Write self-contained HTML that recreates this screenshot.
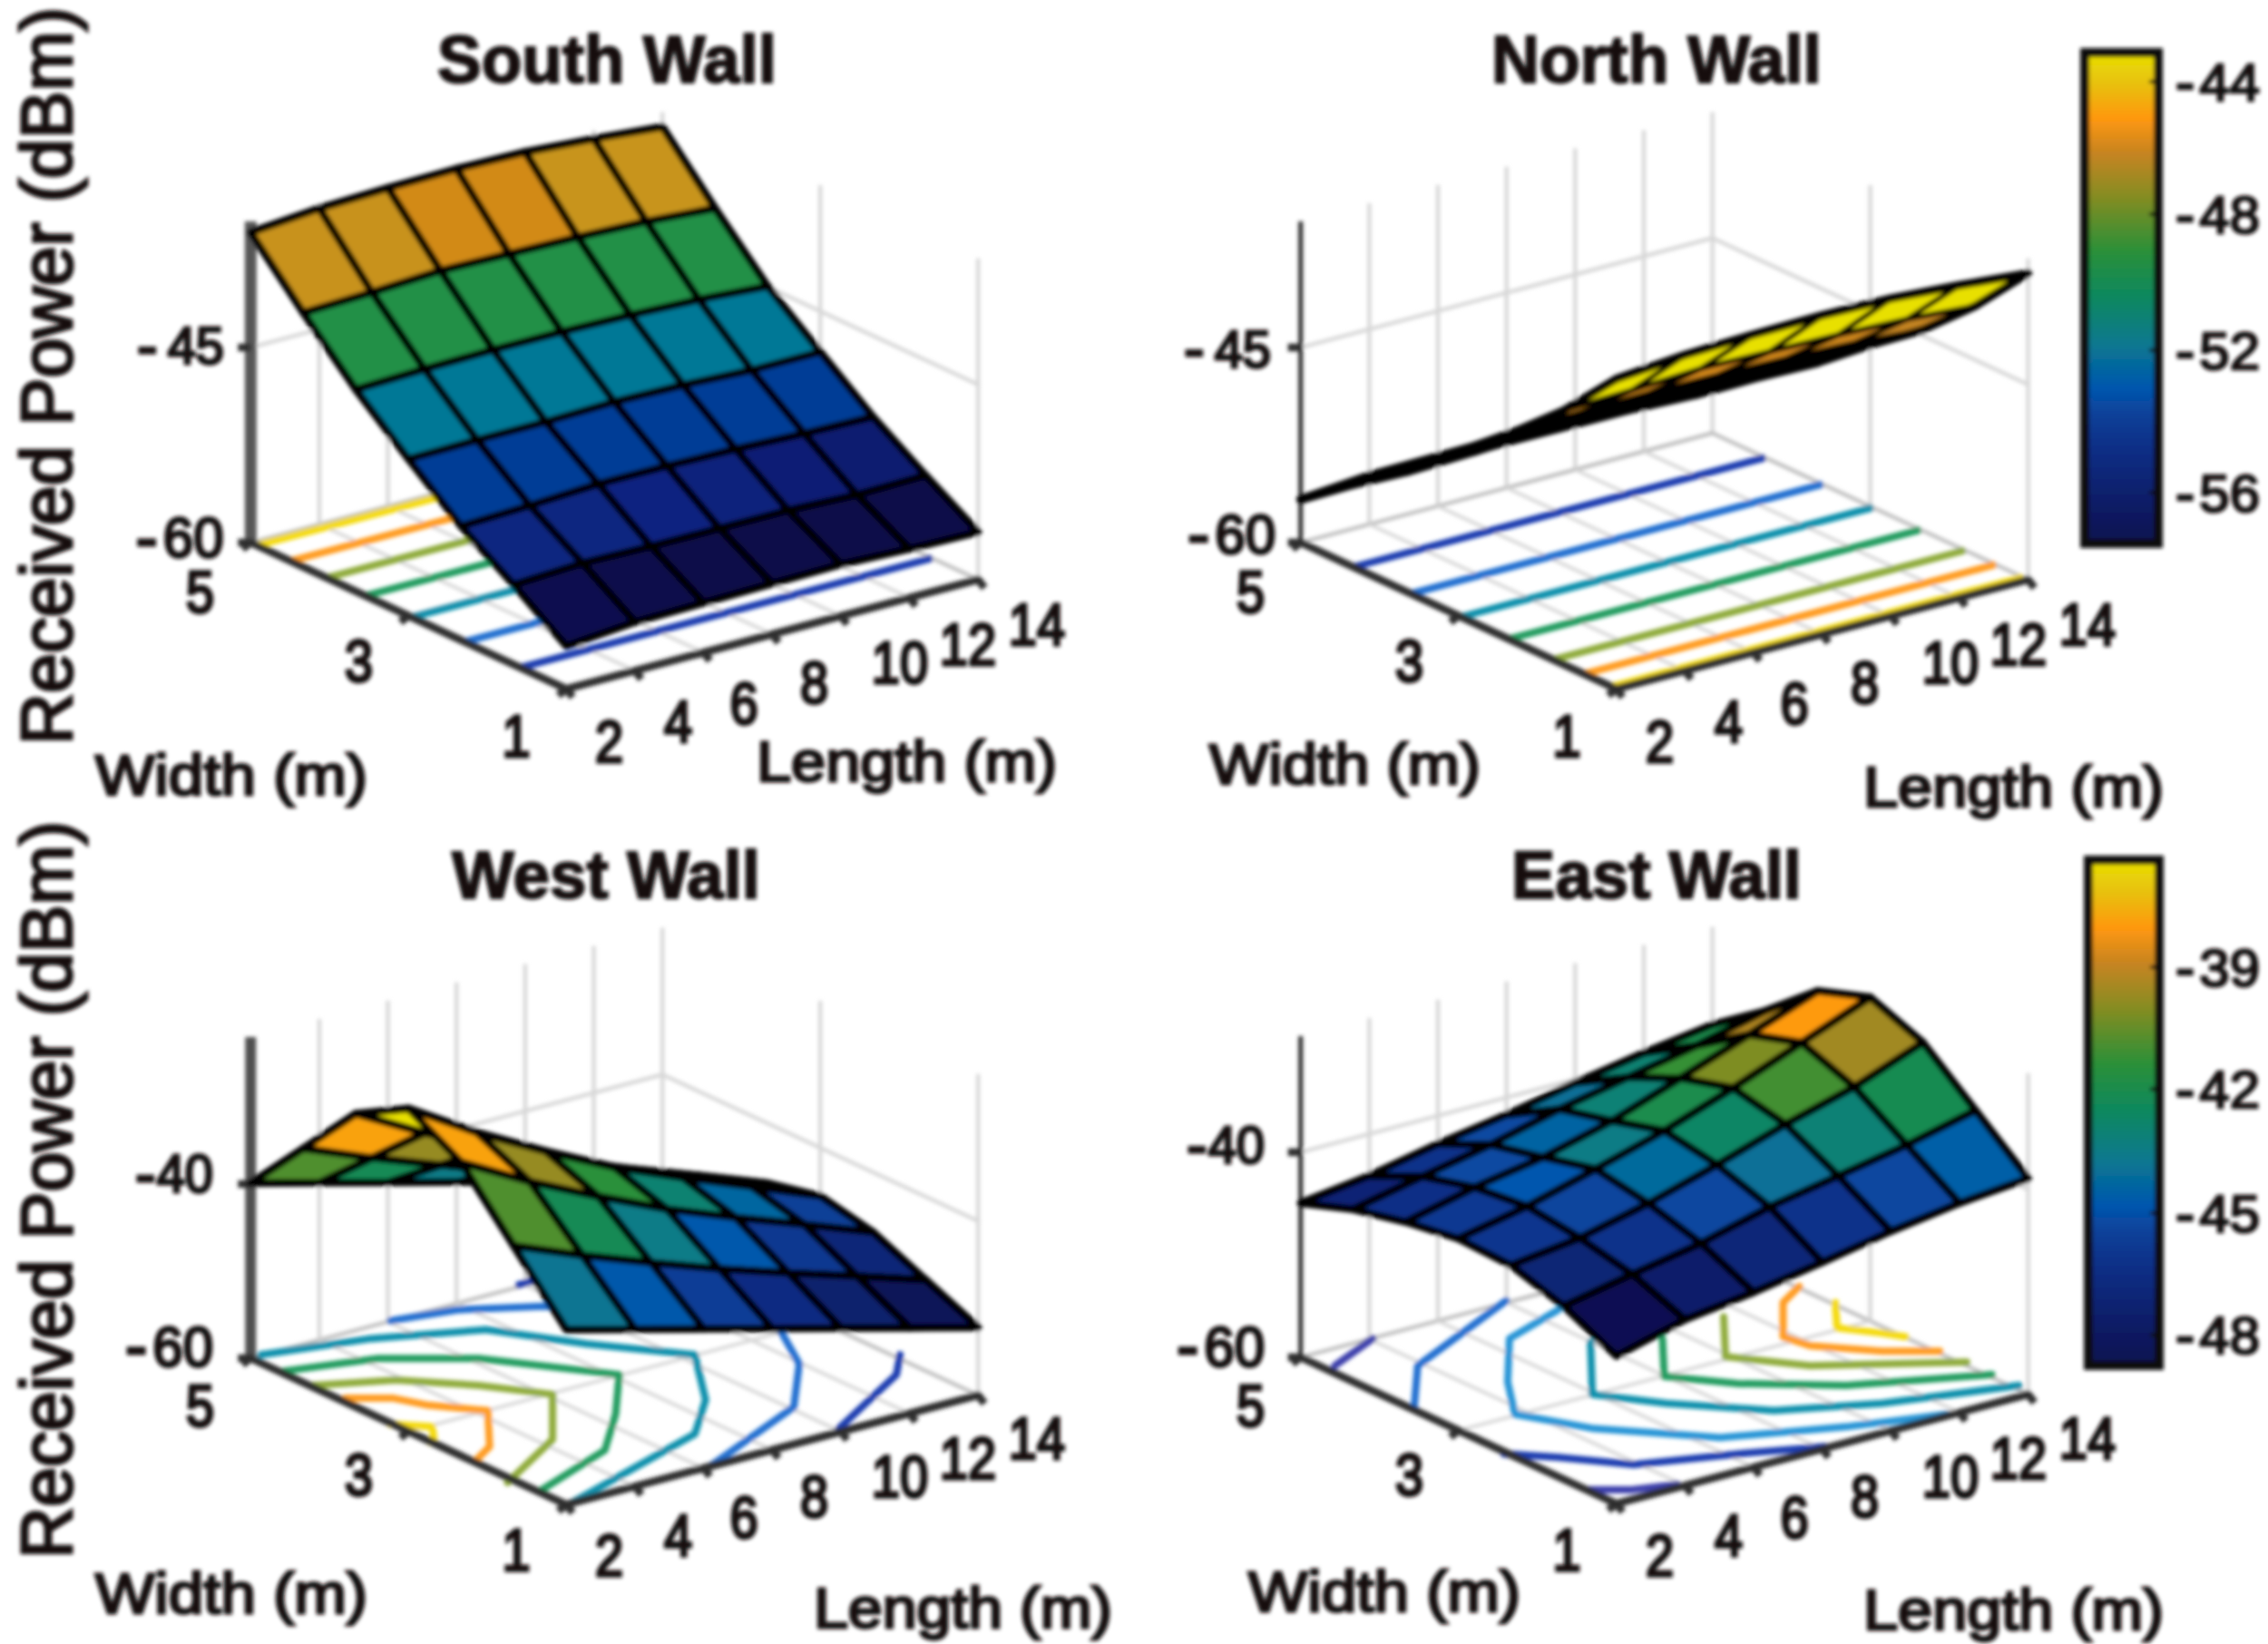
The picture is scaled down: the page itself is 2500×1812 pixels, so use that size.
<!DOCTYPE html>
<html><head><meta charset="utf-8"><title>Received Power on Walls</title>
<style>html,body{margin:0;padding:0;background:#fff}svg{display:block}</style></head>
<body>
<svg width="2500" height="1812" viewBox="0 0 2500 1812">
<defs>
<filter id="bl" x="0" y="0" width="2500" height="1812" filterUnits="userSpaceOnUse"><feGaussianBlur stdDeviation="2"/></filter>
<linearGradient id="cg" x1="0" y1="0" x2="0" y2="1"><stop offset="0.000" stop-color="#E8E000"/><stop offset="0.065" stop-color="#E8C010"/><stop offset="0.134" stop-color="#FF9810"/><stop offset="0.203" stop-color="#C88420"/><stop offset="0.285" stop-color="#8C8C20"/><stop offset="0.402" stop-color="#2C9038"/><stop offset="0.500" stop-color="#0C8860"/><stop offset="0.595" stop-color="#087890"/><stop offset="0.684" stop-color="#0456AE"/><stop offset="0.740" stop-color="#0A4098"/><stop offset="0.800" stop-color="#0C3088"/><stop offset="0.970" stop-color="#0C1458"/><stop offset="1.000" stop-color="#0C1050"/></linearGradient>
</defs>
<rect width="2500" height="1812" fill="#fff"/>
<g filter="url(#bl)" font-family="'Liberation Sans', Arial, sans-serif" fill="#120c0c" stroke="#120c0c" stroke-width="0">
<line x1="276.3" y1="598.0" x2="276.3" y2="244.0" stroke="#d6d6d6" stroke-width="4.2" />
<line x1="352.0" y1="577.9" x2="352.0" y2="223.9" stroke="#d6d6d6" stroke-width="4.2" />
<line x1="427.6" y1="557.8" x2="427.6" y2="203.8" stroke="#d6d6d6" stroke-width="4.2" />
<line x1="503.2" y1="537.7" x2="503.2" y2="183.7" stroke="#d6d6d6" stroke-width="4.2" />
<line x1="578.9" y1="517.6" x2="578.9" y2="163.6" stroke="#d6d6d6" stroke-width="4.2" />
<line x1="654.5" y1="497.5" x2="654.5" y2="143.5" stroke="#d6d6d6" stroke-width="4.2" />
<line x1="730.2" y1="477.4" x2="730.2" y2="123.4" stroke="#d6d6d6" stroke-width="4.2" />
<line x1="904.2" y1="558.1" x2="904.2" y2="204.1" stroke="#d6d6d6" stroke-width="4.2" />
<line x1="1078.2" y1="638.8" x2="1078.2" y2="284.8" stroke="#d6d6d6" stroke-width="4.2" />
<polyline points="276.3,383.0 730.2,262.4 1078.2,423.8" fill="none" stroke="#d6d6d6" stroke-width="4.2" stroke-linejoin="round" stroke-linecap="round" />
<polyline points="276.3,598.0 730.2,477.4 1078.2,638.8" fill="none" stroke="#bdbdbd" stroke-width="4.2" stroke-linejoin="round" stroke-linecap="round" />
<line x1="352.0" y1="577.9" x2="700.0" y2="739.3" stroke="#d6d6d6" stroke-width="3.6" />
<line x1="427.6" y1="557.8" x2="775.6" y2="719.2" stroke="#d6d6d6" stroke-width="3.6" />
<line x1="503.2" y1="537.7" x2="851.2" y2="699.1" stroke="#d6d6d6" stroke-width="3.6" />
<line x1="578.9" y1="517.6" x2="926.9" y2="679.0" stroke="#d6d6d6" stroke-width="3.6" />
<line x1="654.5" y1="497.5" x2="1002.5" y2="658.9" stroke="#d6d6d6" stroke-width="3.6" />
<line x1="450.3" y1="678.7" x2="904.2" y2="558.1" stroke="#d6d6d6" stroke-width="3.6" />
<line x1="283.3" y1="601.2" x2="737.2" y2="480.6" stroke="#F4DA10" stroke-width="8" />
<line x1="320.1" y1="618.3" x2="774.0" y2="497.7" stroke="#FF9C20" stroke-width="8" />
<line x1="360.2" y1="636.9" x2="814.1" y2="516.3" stroke="#90AC3C" stroke-width="8" />
<line x1="403.0" y1="656.7" x2="856.9" y2="536.1" stroke="#249C60" stroke-width="8" />
<line x1="453.8" y1="680.3" x2="907.7" y2="559.7" stroke="#1090AC" stroke-width="8" />
<line x1="512.2" y1="707.4" x2="966.1" y2="586.8" stroke="#2070D0" stroke-width="8" />
<line x1="573.5" y1="735.8" x2="1027.4" y2="615.2" stroke="#1A3EB0" stroke-width="8" />
<line x1="276.3" y1="600.0" x2="276.3" y2="244.0" stroke="#565656" stroke-width="13" />
<polyline points="276.3,598.0 624.3,759.4 1078.2,638.8" fill="none" stroke="#2e2e2e" stroke-width="8.5" stroke-linejoin="round" stroke-linecap="round" />
<line x1="262.3" y1="598.0" x2="276.3" y2="598.0" stroke="#2e2e2e" stroke-width="8.5" />
<line x1="262.3" y1="383.0" x2="276.3" y2="383.0" stroke="#2e2e2e" stroke-width="8.5" />
<line x1="276.3" y1="598.0" x2="267.3" y2="605.0" stroke="#2e2e2e" stroke-width="8.5" />
<line x1="450.3" y1="678.7" x2="441.3" y2="685.7" stroke="#2e2e2e" stroke-width="8.5" />
<line x1="624.3" y1="759.4" x2="615.3" y2="766.4" stroke="#2e2e2e" stroke-width="8.5" />
<line x1="624.3" y1="759.4" x2="631.3" y2="768.4" stroke="#2e2e2e" stroke-width="8.5" />
<line x1="700.0" y1="739.3" x2="707.0" y2="748.3" stroke="#2e2e2e" stroke-width="8.5" />
<line x1="775.6" y1="719.2" x2="782.6" y2="728.2" stroke="#2e2e2e" stroke-width="8.5" />
<line x1="851.2" y1="699.1" x2="858.2" y2="708.1" stroke="#2e2e2e" stroke-width="8.5" />
<line x1="926.9" y1="679.0" x2="933.9" y2="688.0" stroke="#2e2e2e" stroke-width="8.5" />
<line x1="1002.5" y1="658.9" x2="1009.5" y2="667.9" stroke="#2e2e2e" stroke-width="8.5" />
<line x1="1078.2" y1="638.8" x2="1085.2" y2="647.8" stroke="#2e2e2e" stroke-width="8.5" />
<polygon points="654.5,152.9 730.2,139.7 788.2,229.6 712.5,244.2" fill="#C8941E" stroke="#000" stroke-width="8.5" stroke-linejoin="round"/>
<polygon points="578.9,167.5 654.5,152.9 712.5,244.2 636.9,261.4" fill="#C8941E" stroke="#000" stroke-width="8.5" stroke-linejoin="round"/>
<polygon points="503.2,186.0 578.9,167.5 636.9,261.4 561.2,279.9" fill="#D28A16" stroke="#000" stroke-width="8.5" stroke-linejoin="round"/>
<polygon points="712.5,244.2 788.2,229.6 846.2,315.6 770.5,330.2" fill="#249046" stroke="#000" stroke-width="8.5" stroke-linejoin="round"/>
<polygon points="427.6,207.1 503.2,186.0 561.2,279.9 485.6,298.4" fill="#D28A16" stroke="#000" stroke-width="8.5" stroke-linejoin="round"/>
<polygon points="636.9,261.4 712.5,244.2 770.5,330.2 694.9,347.4" fill="#249046" stroke="#000" stroke-width="8.5" stroke-linejoin="round"/>
<polygon points="352.0,229.6 427.6,207.1 485.6,298.4 410.0,322.2" fill="#C8921E" stroke="#000" stroke-width="8.5" stroke-linejoin="round"/>
<polygon points="561.2,279.9 636.9,261.4 694.9,347.4 619.2,365.9" fill="#249046" stroke="#000" stroke-width="8.5" stroke-linejoin="round"/>
<polygon points="770.5,330.2 846.2,315.6 904.2,388.0 828.5,408.0" fill="#007896" stroke="#000" stroke-width="8.5" stroke-linejoin="round"/>
<polygon points="276.3,256.1 352.0,229.6 410.0,322.2 334.3,344.7" fill="#C8921E" stroke="#000" stroke-width="8.5" stroke-linejoin="round"/>
<polygon points="485.6,298.4 561.2,279.9 619.2,365.9 543.6,385.7" fill="#249046" stroke="#000" stroke-width="8.5" stroke-linejoin="round"/>
<polygon points="694.9,347.4 770.5,330.2 828.5,408.0 752.9,424.5" fill="#007896" stroke="#000" stroke-width="8.5" stroke-linejoin="round"/>
<polygon points="410.0,322.2 485.6,298.4 543.6,385.7 468.0,406.9" fill="#249046" stroke="#000" stroke-width="8.5" stroke-linejoin="round"/>
<polygon points="619.2,365.9 694.9,347.4 752.9,424.5 677.2,443.0" fill="#007896" stroke="#000" stroke-width="8.5" stroke-linejoin="round"/>
<polygon points="828.5,408.0 904.2,388.0 962.2,459.4 886.5,477.9" fill="#063C96" stroke="#000" stroke-width="8.5" stroke-linejoin="round"/>
<polygon points="334.3,344.7 410.0,322.2 468.0,406.9 392.3,429.4" fill="#249046" stroke="#000" stroke-width="8.5" stroke-linejoin="round"/>
<polygon points="543.6,385.7 619.2,365.9 677.2,443.0 601.6,465.0" fill="#007896" stroke="#000" stroke-width="8.5" stroke-linejoin="round"/>
<polygon points="752.9,424.5 828.5,408.0 886.5,477.9 810.9,495.0" fill="#063C96" stroke="#000" stroke-width="8.5" stroke-linejoin="round"/>
<polygon points="468.0,406.9 543.6,385.7 601.6,465.0 526.0,485.0" fill="#007896" stroke="#000" stroke-width="8.5" stroke-linejoin="round"/>
<polygon points="677.2,443.0 752.9,424.5 810.9,495.0 735.2,513.6" fill="#063C96" stroke="#000" stroke-width="8.5" stroke-linejoin="round"/>
<polygon points="886.5,477.9 962.2,459.4 1020.2,524.0 944.5,545.3" fill="#0C1C70" stroke="#000" stroke-width="8.5" stroke-linejoin="round"/>
<polygon points="392.3,429.4 468.0,406.9 526.0,485.0 450.3,506.0" fill="#007896" stroke="#000" stroke-width="8.5" stroke-linejoin="round"/>
<polygon points="601.6,465.0 677.2,443.0 735.2,513.6 659.6,533.4" fill="#063C96" stroke="#000" stroke-width="8.5" stroke-linejoin="round"/>
<polygon points="810.9,495.0 886.5,477.9 944.5,545.3 868.9,562.5" fill="#0C1E74" stroke="#000" stroke-width="8.5" stroke-linejoin="round"/>
<polygon points="526.0,485.0 601.6,465.0 659.6,533.4 584.0,557.2" fill="#063C96" stroke="#000" stroke-width="8.5" stroke-linejoin="round"/>
<polygon points="735.2,513.6 810.9,495.0 868.9,562.5 793.2,582.4" fill="#0C227C" stroke="#000" stroke-width="8.5" stroke-linejoin="round"/>
<polygon points="944.5,545.3 1020.2,524.0 1078.2,586.3 1002.5,604.9" fill="#0A0848" stroke="#000" stroke-width="8.5" stroke-linejoin="round"/>
<polygon points="450.3,506.0 526.0,485.0 584.0,557.2 508.3,580.0" fill="#063C96" stroke="#000" stroke-width="8.5" stroke-linejoin="round"/>
<polygon points="659.6,533.4 735.2,513.6 793.2,582.4 717.6,602.2" fill="#0C2480" stroke="#000" stroke-width="8.5" stroke-linejoin="round"/>
<polygon points="868.9,562.5 944.5,545.3 1002.5,604.9 926.9,622.0" fill="#0A0848" stroke="#000" stroke-width="8.5" stroke-linejoin="round"/>
<polygon points="584.0,557.2 659.6,533.4 717.6,602.2 642.0,620.7" fill="#0C2680" stroke="#000" stroke-width="8.5" stroke-linejoin="round"/>
<polygon points="793.2,582.4 868.9,562.5 926.9,622.0 851.2,643.2" fill="#0A0848" stroke="#000" stroke-width="8.5" stroke-linejoin="round"/>
<polygon points="508.3,580.0 584.0,557.2 642.0,620.7 566.3,644.6" fill="#0C2680" stroke="#000" stroke-width="8.5" stroke-linejoin="round"/>
<polygon points="717.6,602.2 793.2,582.4 851.2,643.2 775.6,664.4" fill="#0A0848" stroke="#000" stroke-width="8.5" stroke-linejoin="round"/>
<polygon points="642.0,620.7 717.6,602.2 775.6,664.4 700.0,685.6" fill="#0A0A4C" stroke="#000" stroke-width="8.5" stroke-linejoin="round"/>
<polygon points="566.3,644.6 642.0,620.7 700.0,685.6 624.3,712.0" fill="#0A0C50" stroke="#000" stroke-width="8.5" stroke-linejoin="round"/>
<text font-size="56" text-anchor="middle" transform="translate(220.5 674.5) scale(1 1.17)" stroke-width="3.0" >5</text>
<text font-size="56" text-anchor="middle" transform="translate(395.5 750.6) scale(1 1.17)" stroke-width="3.0" >3</text>
<text font-size="56" text-anchor="middle" transform="translate(569.0 834.0) scale(1 1.17)" stroke-width="3.0" >1</text>
<text font-size="56" text-anchor="middle" transform="translate(671.5 839.5) scale(1 1.17)" stroke-width="3.0" >2</text>
<text font-size="56" text-anchor="middle" transform="translate(747.5 817.5) scale(1 1.17)" stroke-width="3.0" >4</text>
<text font-size="56" text-anchor="middle" transform="translate(820.0 797.5) scale(1 1.17)" stroke-width="3.0" >6</text>
<text font-size="56" text-anchor="middle" transform="translate(897.5 774.5) scale(1 1.17)" stroke-width="3.0" >8</text>
<text font-size="56" text-anchor="middle" transform="translate(992.0 753.0) scale(1 1.17)" stroke-width="3.0" >10</text>
<text font-size="56" text-anchor="middle" transform="translate(1067.0 733.0) scale(1 1.17)" stroke-width="3.0" >12</text>
<text font-size="56" text-anchor="middle" transform="translate(1143.0 710.5) scale(1 1.17)" stroke-width="3.0" >14</text>
<text font-size="56" text-anchor="end" transform="translate(247.0 401.1) scale(1 1.03)" stroke-width="3.0" ><tspan font-size="68" dy="3.4">-</tspan><tspan dx="11" dy="-3.4">45</tspan></text>
<text font-size="60" text-anchor="end" transform="translate(246.5 614.1) scale(1 1.05)" stroke-width="3.0" ><tspan font-size="73" dy="3.6">-</tspan><tspan dx="6" dy="-3.6">60</tspan></text>
<text font-size="74" text-anchor="middle" font-weight="bold" textLength="374" lengthAdjust="spacingAndGlyphs" transform="translate(669.0 91.0)" stroke-width="2" >South Wall</text>
<text font-size="63" text-anchor="start" textLength="300" lengthAdjust="spacingAndGlyphs" transform="translate(105.0 876.0)" stroke-width="3.0" >Width (m)</text>
<text font-size="63" text-anchor="start" textLength="331" lengthAdjust="spacingAndGlyphs" transform="translate(834.0 861.0)" stroke-width="3.0" >Length (m)</text>
<text font-size="80" text-anchor="start" textLength="813" lengthAdjust="spacingAndGlyphs" transform="translate(79.0 821.0) rotate(-90)" stroke-width="3" >Received Power (dBm)</text>
<line x1="1433.7" y1="598.0" x2="1433.7" y2="244.0" stroke="#d6d6d6" stroke-width="4.2" />
<line x1="1509.4" y1="577.9" x2="1509.4" y2="223.9" stroke="#d6d6d6" stroke-width="4.2" />
<line x1="1585.0" y1="557.8" x2="1585.0" y2="203.8" stroke="#d6d6d6" stroke-width="4.2" />
<line x1="1660.7" y1="537.7" x2="1660.7" y2="183.7" stroke="#d6d6d6" stroke-width="4.2" />
<line x1="1736.3" y1="517.6" x2="1736.3" y2="163.6" stroke="#d6d6d6" stroke-width="4.2" />
<line x1="1812.0" y1="497.5" x2="1812.0" y2="143.5" stroke="#d6d6d6" stroke-width="4.2" />
<line x1="1887.6" y1="477.4" x2="1887.6" y2="123.4" stroke="#d6d6d6" stroke-width="4.2" />
<line x1="2061.6" y1="558.1" x2="2061.6" y2="204.1" stroke="#d6d6d6" stroke-width="4.2" />
<line x1="2235.6" y1="638.8" x2="2235.6" y2="284.8" stroke="#d6d6d6" stroke-width="4.2" />
<polyline points="1433.7,383.0 1887.6,262.4 2235.6,423.8" fill="none" stroke="#d6d6d6" stroke-width="4.2" stroke-linejoin="round" stroke-linecap="round" />
<polyline points="1433.7,598.0 1887.6,477.4 2235.6,638.8" fill="none" stroke="#bdbdbd" stroke-width="4.2" stroke-linejoin="round" stroke-linecap="round" />
<line x1="1509.4" y1="577.9" x2="1857.4" y2="739.3" stroke="#d6d6d6" stroke-width="3.6" />
<line x1="1585.0" y1="557.8" x2="1933.0" y2="719.2" stroke="#d6d6d6" stroke-width="3.6" />
<line x1="1660.7" y1="537.7" x2="2008.7" y2="699.1" stroke="#d6d6d6" stroke-width="3.6" />
<line x1="1736.3" y1="517.6" x2="2084.3" y2="679.0" stroke="#d6d6d6" stroke-width="3.6" />
<line x1="1812.0" y1="497.5" x2="2159.9" y2="658.9" stroke="#d6d6d6" stroke-width="3.6" />
<line x1="1607.7" y1="678.7" x2="2061.6" y2="558.1" stroke="#d6d6d6" stroke-width="3.6" />
<line x1="1491.8" y1="625.0" x2="1945.7" y2="504.4" stroke="#1A3EB0" stroke-width="8" />
<line x1="1555.2" y1="654.3" x2="2009.1" y2="533.7" stroke="#2070D0" stroke-width="8" />
<line x1="1610.5" y1="680.0" x2="2064.4" y2="559.4" stroke="#1090AC" stroke-width="8" />
<line x1="1663.0" y1="704.4" x2="2116.9" y2="583.8" stroke="#249C60" stroke-width="8" />
<line x1="1712.1" y1="727.1" x2="2166.0" y2="606.5" stroke="#90AC3C" stroke-width="8" />
<line x1="1745.9" y1="742.8" x2="2199.8" y2="622.2" stroke="#FF9C20" stroke-width="8" />
<line x1="1776.1" y1="756.8" x2="2230.0" y2="636.2" stroke="#F4DA10" stroke-width="8" />
<line x1="1433.7" y1="600.0" x2="1433.7" y2="244.0" stroke="#2a2a2a" stroke-width="5" />
<polyline points="1433.7,598.0 1781.7,759.4 2235.6,638.8" fill="none" stroke="#2e2e2e" stroke-width="8.5" stroke-linejoin="round" stroke-linecap="round" />
<line x1="1419.7" y1="598.0" x2="1433.7" y2="598.0" stroke="#2e2e2e" stroke-width="8.5" />
<line x1="1419.7" y1="383.0" x2="1433.7" y2="383.0" stroke="#2e2e2e" stroke-width="8.5" />
<line x1="1433.7" y1="598.0" x2="1424.7" y2="605.0" stroke="#2e2e2e" stroke-width="8.5" />
<line x1="1607.7" y1="678.7" x2="1598.7" y2="685.7" stroke="#2e2e2e" stroke-width="8.5" />
<line x1="1781.7" y1="759.4" x2="1772.7" y2="766.4" stroke="#2e2e2e" stroke-width="8.5" />
<line x1="1781.7" y1="759.4" x2="1788.7" y2="768.4" stroke="#2e2e2e" stroke-width="8.5" />
<line x1="1857.4" y1="739.3" x2="1864.4" y2="748.3" stroke="#2e2e2e" stroke-width="8.5" />
<line x1="1933.0" y1="719.2" x2="1940.0" y2="728.2" stroke="#2e2e2e" stroke-width="8.5" />
<line x1="2008.7" y1="699.1" x2="2015.7" y2="708.1" stroke="#2e2e2e" stroke-width="8.5" />
<line x1="2084.3" y1="679.0" x2="2091.3" y2="688.0" stroke="#2e2e2e" stroke-width="8.5" />
<line x1="2159.9" y1="658.9" x2="2166.9" y2="667.9" stroke="#2e2e2e" stroke-width="8.5" />
<line x1="2235.6" y1="638.8" x2="2242.6" y2="647.8" stroke="#2e2e2e" stroke-width="8.5" />
<polygon points="1812.0,443.5 1887.6,424.9 1945.6,413.4 1870.0,434.7" fill="#0C297C" stroke="#000" stroke-width="9.5" stroke-linejoin="round"/>
<polygon points="1736.3,460.6 1812.0,443.5 1870.0,434.7 1794.3,451.9" fill="#0C2A7E" stroke="#000" stroke-width="9.5" stroke-linejoin="round"/>
<polygon points="1660.7,481.8 1736.3,460.6 1794.3,451.9 1718.7,471.8" fill="#0C2A7F" stroke="#000" stroke-width="9.5" stroke-linejoin="round"/>
<polygon points="1870.0,434.7 1945.6,413.4 2003.6,399.6 1928.0,418.1" fill="#0650A8" stroke="#000" stroke-width="9.5" stroke-linejoin="round"/>
<polygon points="1585.0,503.0 1660.7,481.8 1718.7,471.8 1643.0,491.6" fill="#0C2B7F" stroke="#000" stroke-width="9.5" stroke-linejoin="round"/>
<polygon points="1794.3,451.9 1870.0,434.7 1928.0,418.1 1852.3,435.2" fill="#0454AC" stroke="#000" stroke-width="9.5" stroke-linejoin="round"/>
<polygon points="1509.4,524.2 1585.0,503.0 1643.0,491.6 1567.4,510.1" fill="#0C2C80" stroke="#000" stroke-width="9.5" stroke-linejoin="round"/>
<polygon points="1718.7,471.8 1794.3,451.9 1852.3,435.2 1776.7,453.8" fill="#0456AE" stroke="#000" stroke-width="9.5" stroke-linejoin="round"/>
<polygon points="1928.0,418.1 2003.6,399.6 2061.6,380.0 1986.0,400.0" fill="#0A8078" stroke="#000" stroke-width="9.5" stroke-linejoin="round"/>
<polygon points="1433.7,550.6 1509.4,524.2 1567.4,510.1 1491.7,534.0" fill="#0C297D" stroke="#000" stroke-width="9.5" stroke-linejoin="round"/>
<polygon points="1643.0,491.6 1718.7,471.8 1776.7,453.8 1701.0,473.6" fill="#0457AD" stroke="#000" stroke-width="9.5" stroke-linejoin="round"/>
<polygon points="1852.3,435.2 1928.0,418.1 1986.0,400.0 1910.3,416.5" fill="#0A8272" stroke="#000" stroke-width="9.5" stroke-linejoin="round"/>
<polygon points="1567.4,510.1 1643.0,491.6 1701.0,473.6 1625.4,497.4" fill="#0552AA" stroke="#000" stroke-width="9.5" stroke-linejoin="round"/>
<polygon points="1776.7,453.8 1852.3,435.2 1910.3,416.5 1834.7,435.0" fill="#0B836F" stroke="#000" stroke-width="9.5" stroke-linejoin="round"/>
<polygon points="1986.0,400.0 2061.6,380.0 2119.6,363.4 2044.0,378.0" fill="#3B8F34" stroke="#000" stroke-width="9.5" stroke-linejoin="round"/>
<polygon points="1491.7,534.0 1567.4,510.1 1625.4,497.4 1549.7,520.2" fill="#064EA6" stroke="#000" stroke-width="9.5" stroke-linejoin="round"/>
<polygon points="1701.0,473.6 1776.7,453.8 1834.7,435.0 1759.0,457.0" fill="#0A8273" stroke="#000" stroke-width="9.5" stroke-linejoin="round"/>
<polygon points="1910.3,416.5 1986.0,400.0 2044.0,378.0 1968.3,395.2" fill="#428F32" stroke="#000" stroke-width="9.5" stroke-linejoin="round"/>
<polygon points="1625.4,497.4 1701.0,473.6 1759.0,457.0 1683.4,477.0" fill="#0A8272" stroke="#000" stroke-width="9.5" stroke-linejoin="round"/>
<polygon points="1834.7,435.0 1910.3,416.5 1968.3,395.2 1892.7,413.7" fill="#478F31" stroke="#000" stroke-width="9.5" stroke-linejoin="round"/>
<polygon points="2044.0,378.0 2119.6,363.4 2177.6,337.2 2101.9,351.8" fill="#C58420" stroke="#000" stroke-width="5.5" stroke-linejoin="round"/>
<polygon points="1549.7,520.2 1625.4,497.4 1683.4,477.0 1607.7,498.0" fill="#0A8174" stroke="#000" stroke-width="9.5" stroke-linejoin="round"/>
<polygon points="1759.0,457.0 1834.7,435.0 1892.7,413.7 1817.0,433.5" fill="#488F31" stroke="#000" stroke-width="9.5" stroke-linejoin="round"/>
<polygon points="1968.3,395.2 2044.0,378.0 2101.9,351.8 2026.3,369.0" fill="#CD861F" stroke="#000" stroke-width="5.5" stroke-linejoin="round"/>
<polygon points="1683.4,477.0 1759.0,457.0 1817.0,433.5 1741.4,454.7" fill="#458F32" stroke="#000" stroke-width="9.5" stroke-linejoin="round"/>
<polygon points="1892.7,413.7 1968.3,395.2 2026.3,369.0 1950.7,387.5" fill="#D1871D" stroke="#000" stroke-width="5.5" stroke-linejoin="round"/>
<polygon points="2101.9,351.8 2177.6,337.2 2235.6,301.1 2159.9,314.3" fill="#E8E000" stroke="#000" stroke-width="5.5" stroke-linejoin="round"/>
<polygon points="1607.7,498.0 1683.4,477.0 1741.4,454.7 1665.7,477.2" fill="#3E8F33" stroke="#000" stroke-width="9.5" stroke-linejoin="round"/>
<polygon points="1817.0,433.5 1892.7,413.7 1950.7,387.5 1875.0,406.0" fill="#D5891C" stroke="#000" stroke-width="5.5" stroke-linejoin="round"/>
<polygon points="2026.3,369.0 2101.9,351.8 2159.9,314.3 2084.3,328.9" fill="#E8E000" stroke="#000" stroke-width="5.5" stroke-linejoin="round"/>
<polygon points="1741.4,454.7 1817.0,433.5 1875.0,406.0 1799.4,429.8" fill="#CB851F" stroke="#000" stroke-width="5.5" stroke-linejoin="round"/>
<polygon points="1950.7,387.5 2026.3,369.0 2084.3,328.9 2008.7,347.4" fill="#E8E000" stroke="#000" stroke-width="5.5" stroke-linejoin="round"/>
<polygon points="1665.7,477.2 1741.4,454.7 1799.4,429.8 1723.7,452.3" fill="#C58420" stroke="#000" stroke-width="5.5" stroke-linejoin="round"/>
<polygon points="1875.0,406.0 1950.7,387.5 2008.7,347.4 1933.0,368.5" fill="#E8E000" stroke="#000" stroke-width="5.5" stroke-linejoin="round"/>
<polygon points="1799.4,429.8 1875.0,406.0 1933.0,368.5 1857.4,391.0" fill="#E8E000" stroke="#000" stroke-width="5.5" stroke-linejoin="round"/>
<polygon points="1723.7,452.3 1799.4,429.8 1857.4,391.0 1781.7,417.5" fill="#E8E000" stroke="#000" stroke-width="5.5" stroke-linejoin="round"/>
<polygon points="1433.7,550.6 1509.4,524.2 1585.0,503.0 1660.7,481.8 1736.3,460.6 1812.0,443.5 1887.6,424.9 1945.6,413.4 2003.6,399.6 2061.6,380.0 2119.6,363.4 2177.6,337.2 2235.6,301.1 2159.9,314.3 2084.3,328.9 2008.7,347.4 1933.0,368.5 1857.4,391.0 1781.7,417.5 1723.7,452.3 1665.7,477.2 1607.7,498.0 1549.7,520.2 1491.7,534.0" fill="none" stroke="#000" stroke-width="9" stroke-linejoin="round"/>
<text font-size="56" text-anchor="middle" transform="translate(1378.5 674.5) scale(1 1.17)" stroke-width="3.0" >5</text>
<text font-size="56" text-anchor="middle" transform="translate(1553.5 750.6) scale(1 1.17)" stroke-width="3.0" >3</text>
<text font-size="56" text-anchor="middle" transform="translate(1727.0 834.0) scale(1 1.17)" stroke-width="3.0" >1</text>
<text font-size="56" text-anchor="middle" transform="translate(1829.5 839.5) scale(1 1.17)" stroke-width="3.0" >2</text>
<text font-size="56" text-anchor="middle" transform="translate(1905.5 817.5) scale(1 1.17)" stroke-width="3.0" >4</text>
<text font-size="56" text-anchor="middle" transform="translate(1978.0 797.5) scale(1 1.17)" stroke-width="3.0" >6</text>
<text font-size="56" text-anchor="middle" transform="translate(2055.5 774.5) scale(1 1.17)" stroke-width="3.0" >8</text>
<text font-size="56" text-anchor="middle" transform="translate(2150.0 753.0) scale(1 1.17)" stroke-width="3.0" >10</text>
<text font-size="56" text-anchor="middle" transform="translate(2225.0 733.0) scale(1 1.17)" stroke-width="3.0" >12</text>
<text font-size="56" text-anchor="middle" transform="translate(2301.0 710.5) scale(1 1.17)" stroke-width="3.0" >14</text>
<text font-size="56" text-anchor="end" transform="translate(1401.0 404.6) scale(1 1.03)" stroke-width="3.0" ><tspan font-size="68" dy="3.4">-</tspan><tspan dx="11" dy="-3.4">45</tspan></text>
<text font-size="60" text-anchor="end" transform="translate(1406.0 610.2) scale(1 1.02)" stroke-width="3.0" ><tspan font-size="73" dy="3.6">-</tspan><tspan dx="6" dy="-3.6">60</tspan></text>
<text font-size="74" text-anchor="middle" font-weight="bold" textLength="364" lengthAdjust="spacingAndGlyphs" transform="translate(1826.0 91.0)" stroke-width="2" >North Wall</text>
<text font-size="63" text-anchor="start" textLength="299" lengthAdjust="spacingAndGlyphs" transform="translate(1333.0 864.0)" stroke-width="3.0" >Width (m)</text>
<text font-size="63" text-anchor="start" textLength="331" lengthAdjust="spacingAndGlyphs" transform="translate(2054.0 889.0)" stroke-width="3.0" >Length (m)</text>
<line x1="276.3" y1="1497.0" x2="276.3" y2="1143.0" stroke="#d6d6d6" stroke-width="4.2" />
<line x1="352.0" y1="1476.9" x2="352.0" y2="1122.9" stroke="#d6d6d6" stroke-width="4.2" />
<line x1="427.6" y1="1456.8" x2="427.6" y2="1102.8" stroke="#d6d6d6" stroke-width="4.2" />
<line x1="503.2" y1="1436.7" x2="503.2" y2="1082.7" stroke="#d6d6d6" stroke-width="4.2" />
<line x1="578.9" y1="1416.6" x2="578.9" y2="1062.6" stroke="#d6d6d6" stroke-width="4.2" />
<line x1="654.5" y1="1396.5" x2="654.5" y2="1042.5" stroke="#d6d6d6" stroke-width="4.2" />
<line x1="730.2" y1="1376.4" x2="730.2" y2="1022.4" stroke="#d6d6d6" stroke-width="4.2" />
<line x1="904.2" y1="1457.1" x2="904.2" y2="1103.1" stroke="#d6d6d6" stroke-width="4.2" />
<line x1="1078.2" y1="1537.8" x2="1078.2" y2="1183.8" stroke="#d6d6d6" stroke-width="4.2" />
<polyline points="276.3,1305.0 730.2,1184.4 1078.2,1345.8" fill="none" stroke="#d6d6d6" stroke-width="4.2" stroke-linejoin="round" stroke-linecap="round" />
<polyline points="276.3,1497.0 730.2,1376.4 1078.2,1537.8" fill="none" stroke="#bdbdbd" stroke-width="4.2" stroke-linejoin="round" stroke-linecap="round" />
<line x1="352.0" y1="1476.9" x2="700.0" y2="1638.3" stroke="#d6d6d6" stroke-width="3.6" />
<line x1="427.6" y1="1456.8" x2="775.6" y2="1618.2" stroke="#d6d6d6" stroke-width="3.6" />
<line x1="503.2" y1="1436.7" x2="851.2" y2="1598.1" stroke="#d6d6d6" stroke-width="3.6" />
<line x1="578.9" y1="1416.6" x2="926.9" y2="1578.0" stroke="#d6d6d6" stroke-width="3.6" />
<line x1="654.5" y1="1396.5" x2="1002.5" y2="1557.9" stroke="#d6d6d6" stroke-width="3.6" />
<line x1="450.3" y1="1577.7" x2="904.2" y2="1457.1" stroke="#d6d6d6" stroke-width="3.6" />
<polyline points="430.6,1569.8 476.2,1572.6 478.2,1584.5 474.2,1589.7" fill="none" stroke="#F4DA10" stroke-width="8" stroke-linejoin="round" stroke-linecap="round" />
<polyline points="381.0,1540.9 432.5,1540.9 472.2,1548.8 537.7,1554.8 539.7,1594.4 525.8,1608.3" fill="none" stroke="#FF9C20" stroke-width="8" stroke-linejoin="round" stroke-linecap="round" />
<polyline points="345.2,1527.0 436.5,1521.0 527.8,1527.0 609.1,1536.9 609.1,1586.5 559.5,1634.1" fill="none" stroke="#90AC3C" stroke-width="8" stroke-linejoin="round" stroke-linecap="round" />
<polyline points="313.5,1511.1 416.7,1497.2 527.8,1497.2 682.5,1515.1 678.6,1558.7 666.7,1598.4 597.2,1642.1" fill="none" stroke="#249C60" stroke-width="8" stroke-linejoin="round" stroke-linecap="round" />
<polyline points="287.7,1493.3 408.7,1475.4 535.7,1465.5 646.8,1481.3 765.9,1493.3 777.8,1542.9 765.9,1580.6 631.0,1656.0" fill="none" stroke="#1090AC" stroke-width="8" stroke-linejoin="round" stroke-linecap="round" />
<polyline points="430.6,1455.6 504.0,1443.7 599.2,1439.7 760.0,1440.0 850.0,1452.0 863.1,1471.4 881.0,1503.2 875.0,1550.8 779.8,1618.3" fill="none" stroke="#2070D0" stroke-width="8" stroke-linejoin="round" stroke-linecap="round" />
<polyline points="572.0,1416.0 600.0,1408.0" fill="none" stroke="#1A3EB0" stroke-width="8" stroke-linejoin="round" stroke-linecap="round" />
<polyline points="992.1,1493.3 988.1,1515.1 924.6,1574.6" fill="none" stroke="#1A3EB0" stroke-width="8" stroke-linejoin="round" stroke-linecap="round" />
<line x1="276.3" y1="1499.0" x2="276.3" y2="1143.0" stroke="#505050" stroke-width="12" />
<polyline points="276.3,1497.0 624.3,1658.4 1078.2,1537.8" fill="none" stroke="#2e2e2e" stroke-width="8.5" stroke-linejoin="round" stroke-linecap="round" />
<line x1="262.3" y1="1497.0" x2="276.3" y2="1497.0" stroke="#2e2e2e" stroke-width="8.5" />
<line x1="262.3" y1="1305.0" x2="276.3" y2="1305.0" stroke="#2e2e2e" stroke-width="8.5" />
<line x1="276.3" y1="1497.0" x2="267.3" y2="1504.0" stroke="#2e2e2e" stroke-width="8.5" />
<line x1="450.3" y1="1577.7" x2="441.3" y2="1584.7" stroke="#2e2e2e" stroke-width="8.5" />
<line x1="624.3" y1="1658.4" x2="615.3" y2="1665.4" stroke="#2e2e2e" stroke-width="8.5" />
<line x1="624.3" y1="1658.4" x2="631.3" y2="1667.4" stroke="#2e2e2e" stroke-width="8.5" />
<line x1="700.0" y1="1638.3" x2="707.0" y2="1647.3" stroke="#2e2e2e" stroke-width="8.5" />
<line x1="775.6" y1="1618.2" x2="782.6" y2="1627.2" stroke="#2e2e2e" stroke-width="8.5" />
<line x1="851.2" y1="1598.1" x2="858.2" y2="1607.1" stroke="#2e2e2e" stroke-width="8.5" />
<line x1="926.9" y1="1578.0" x2="933.9" y2="1587.0" stroke="#2e2e2e" stroke-width="8.5" />
<line x1="1002.5" y1="1557.9" x2="1009.5" y2="1566.9" stroke="#2e2e2e" stroke-width="8.5" />
<line x1="1078.2" y1="1537.8" x2="1085.2" y2="1546.8" stroke="#2e2e2e" stroke-width="8.5" />
<polygon points="654.5,1302.0 730.2,1301.6 788.2,1302.9 712.5,1298.9" fill="#0C2778" stroke="#000" stroke-width="8.5" stroke-linejoin="round"/>
<polygon points="578.9,1302.4 654.5,1302.0 712.5,1298.9 636.9,1295.3" fill="#0B3890" stroke="#000" stroke-width="8.5" stroke-linejoin="round"/>
<polygon points="503.2,1302.8 578.9,1302.4 636.9,1295.3 561.2,1290.9" fill="#0458AC" stroke="#000" stroke-width="8.5" stroke-linejoin="round"/>
<polygon points="712.5,1298.9 788.2,1302.9 846.2,1304.2 770.5,1295.8" fill="#0A3F97" stroke="#000" stroke-width="8.5" stroke-linejoin="round"/>
<polygon points="427.6,1303.2 503.2,1302.8 561.2,1290.9 485.6,1284.1" fill="#097B87" stroke="#000" stroke-width="8.5" stroke-linejoin="round"/>
<polygon points="636.9,1295.3 712.5,1298.9 770.5,1295.8 694.9,1288.2" fill="#0666A0" stroke="#000" stroke-width="8.5" stroke-linejoin="round"/>
<polygon points="352.0,1303.6 427.6,1303.2 485.6,1284.1 410.0,1276.1" fill="#158A55" stroke="#000" stroke-width="8.5" stroke-linejoin="round"/>
<polygon points="561.2,1290.9 636.9,1295.3 694.9,1288.2 619.2,1279.0" fill="#0B8271" stroke="#000" stroke-width="8.5" stroke-linejoin="round"/>
<polygon points="770.5,1295.8 846.2,1304.2 904.2,1318.3 828.5,1307.7" fill="#0554AC" stroke="#000" stroke-width="8.5" stroke-linejoin="round"/>
<polygon points="276.3,1304.0 352.0,1303.6 410.0,1276.1 334.3,1265.7" fill="#4F8F2F" stroke="#000" stroke-width="8.5" stroke-linejoin="round"/>
<polygon points="485.6,1284.1 561.2,1290.9 619.2,1279.0 543.6,1265.0" fill="#2A903A" stroke="#000" stroke-width="8.5" stroke-linejoin="round"/>
<polygon points="694.9,1288.2 770.5,1295.8 828.5,1307.7 752.9,1298.1" fill="#097B88" stroke="#000" stroke-width="8.5" stroke-linejoin="round"/>
<polygon points="410.0,1276.1 485.6,1284.1 543.6,1265.0 468.0,1248.6" fill="#968B20" stroke="#000" stroke-width="8.5" stroke-linejoin="round"/>
<polygon points="619.2,1279.0 694.9,1288.2 752.9,1298.1 677.2,1286.5" fill="#198B50" stroke="#000" stroke-width="8.5" stroke-linejoin="round"/>
<polygon points="828.5,1307.7 904.2,1318.3 962.2,1358.0 886.5,1349.6" fill="#0A3F97" stroke="#000" stroke-width="8.5" stroke-linejoin="round"/>
<polygon points="334.3,1265.7 410.0,1276.1 468.0,1248.6 392.3,1227.4" fill="#F9A210" stroke="#000" stroke-width="8.5" stroke-linejoin="round"/>
<polygon points="543.6,1265.0 619.2,1279.0 677.2,1286.5 601.6,1268.9" fill="#6E8D27" stroke="#000" stroke-width="8.5" stroke-linejoin="round"/>
<polygon points="752.9,1298.1 828.5,1307.7 886.5,1349.6 810.9,1342.0" fill="#0666A0" stroke="#000" stroke-width="8.5" stroke-linejoin="round"/>
<polygon points="468.0,1248.6 543.6,1265.0 601.6,1268.9 526.0,1248.3" fill="#E28E18" stroke="#000" stroke-width="8.5" stroke-linejoin="round"/>
<polygon points="677.2,1286.5 752.9,1298.1 810.9,1342.0 735.2,1332.8" fill="#0B8271" stroke="#000" stroke-width="8.5" stroke-linejoin="round"/>
<polygon points="886.5,1349.6 962.2,1358.0 1020.2,1410.5 944.5,1406.5" fill="#0C2778" stroke="#000" stroke-width="8.5" stroke-linejoin="round"/>
<polygon points="392.3,1227.4 468.0,1248.6 526.0,1248.3 450.3,1221.7" fill="#E8E000" stroke="#000" stroke-width="8.5" stroke-linejoin="round"/>
<polygon points="601.6,1268.9 677.2,1286.5 735.2,1332.8 659.6,1318.8" fill="#2A903A" stroke="#000" stroke-width="8.5" stroke-linejoin="round"/>
<polygon points="810.9,1342.0 886.5,1349.6 944.5,1406.5 868.9,1402.9" fill="#0B3890" stroke="#000" stroke-width="8.5" stroke-linejoin="round"/>
<polygon points="526.0,1248.3 601.6,1268.9 659.6,1318.8 584.0,1302.4" fill="#968B20" stroke="#000" stroke-width="8.5" stroke-linejoin="round"/>
<polygon points="735.2,1332.8 810.9,1342.0 868.9,1402.9 793.2,1398.5" fill="#0458AC" stroke="#000" stroke-width="8.5" stroke-linejoin="round"/>
<polygon points="944.5,1406.5 1020.2,1410.5 1078.2,1463.0 1002.5,1463.4" fill="#0C1458" stroke="#000" stroke-width="8.5" stroke-linejoin="round"/>
<polygon points="450.3,1221.7 526.0,1248.3 584.0,1302.4 508.3,1281.2" fill="#F9A210" stroke="#000" stroke-width="8.5" stroke-linejoin="round"/>
<polygon points="659.6,1318.8 735.2,1332.8 793.2,1398.5 717.6,1391.7" fill="#097B87" stroke="#000" stroke-width="8.5" stroke-linejoin="round"/>
<polygon points="868.9,1402.9 944.5,1406.5 1002.5,1463.4 926.9,1463.8" fill="#0C206D" stroke="#000" stroke-width="8.5" stroke-linejoin="round"/>
<polygon points="584.0,1302.4 659.6,1318.8 717.6,1391.7 642.0,1383.7" fill="#158A55" stroke="#000" stroke-width="8.5" stroke-linejoin="round"/>
<polygon points="793.2,1398.5 868.9,1402.9 926.9,1463.8 851.2,1464.2" fill="#0C2C82" stroke="#000" stroke-width="8.5" stroke-linejoin="round"/>
<polygon points="508.3,1281.2 584.0,1302.4 642.0,1383.7 566.3,1373.3" fill="#4F8F2F" stroke="#000" stroke-width="8.5" stroke-linejoin="round"/>
<polygon points="717.6,1391.7 793.2,1398.5 851.2,1464.2 775.6,1464.6" fill="#0A3E96" stroke="#000" stroke-width="8.5" stroke-linejoin="round"/>
<polygon points="642.0,1383.7 717.6,1391.7 775.6,1464.6 700.0,1465.0" fill="#0459AB" stroke="#000" stroke-width="8.5" stroke-linejoin="round"/>
<polygon points="566.3,1373.3 642.0,1383.7 700.0,1465.0 624.3,1465.4" fill="#087592" stroke="#000" stroke-width="8.5" stroke-linejoin="round"/>
<text font-size="56" text-anchor="middle" transform="translate(220.5 1571.5) scale(1 1.17)" stroke-width="3.0" >5</text>
<text font-size="56" text-anchor="middle" transform="translate(395.5 1647.6) scale(1 1.17)" stroke-width="3.0" >3</text>
<text font-size="56" text-anchor="middle" transform="translate(569.0 1731.0) scale(1 1.17)" stroke-width="3.0" >1</text>
<text font-size="56" text-anchor="middle" transform="translate(671.5 1736.5) scale(1 1.17)" stroke-width="3.0" >2</text>
<text font-size="56" text-anchor="middle" transform="translate(747.5 1714.5) scale(1 1.17)" stroke-width="3.0" >4</text>
<text font-size="56" text-anchor="middle" transform="translate(820.0 1694.5) scale(1 1.17)" stroke-width="3.0" >6</text>
<text font-size="56" text-anchor="middle" transform="translate(897.5 1671.5) scale(1 1.17)" stroke-width="3.0" >8</text>
<text font-size="56" text-anchor="middle" transform="translate(992.0 1650.0) scale(1 1.17)" stroke-width="3.0" >10</text>
<text font-size="56" text-anchor="middle" transform="translate(1067.0 1630.0) scale(1 1.17)" stroke-width="3.0" >12</text>
<text font-size="56" text-anchor="middle" transform="translate(1143.0 1607.5) scale(1 1.17)" stroke-width="3.0" >14</text>
<text font-size="56" text-anchor="end" transform="translate(235.0 1314.3) scale(1 1.06)" stroke-width="3.0" ><tspan font-size="68" dy="3.4">-</tspan><tspan dx="1" dy="-3.4">40</tspan></text>
<text font-size="60" text-anchor="end" transform="translate(235.0 1506.3) scale(1 1.06)" stroke-width="3.0" ><tspan font-size="73" dy="3.6">-</tspan><tspan dx="6" dy="-3.6">60</tspan></text>
<text font-size="74" text-anchor="middle" font-weight="bold" textLength="340" lengthAdjust="spacingAndGlyphs" transform="translate(668.0 990.0)" stroke-width="2" >West Wall</text>
<text font-size="63" text-anchor="start" textLength="300" lengthAdjust="spacingAndGlyphs" transform="translate(105.0 1778.0)" stroke-width="3.0" >Width (m)</text>
<text font-size="63" text-anchor="start" textLength="329" lengthAdjust="spacingAndGlyphs" transform="translate(897.0 1794.0)" stroke-width="3.0" >Length (m)</text>
<text font-size="80" text-anchor="start" textLength="813" lengthAdjust="spacingAndGlyphs" transform="translate(79.0 1718.0) rotate(-90)" stroke-width="3" >Received Power (dBm)</text>
<line x1="1433.7" y1="1496.0" x2="1433.7" y2="1142.0" stroke="#d6d6d6" stroke-width="4.2" />
<line x1="1509.4" y1="1475.9" x2="1509.4" y2="1121.9" stroke="#d6d6d6" stroke-width="4.2" />
<line x1="1585.0" y1="1455.8" x2="1585.0" y2="1101.8" stroke="#d6d6d6" stroke-width="4.2" />
<line x1="1660.7" y1="1435.7" x2="1660.7" y2="1081.7" stroke="#d6d6d6" stroke-width="4.2" />
<line x1="1736.3" y1="1415.6" x2="1736.3" y2="1061.6" stroke="#d6d6d6" stroke-width="4.2" />
<line x1="1812.0" y1="1395.5" x2="1812.0" y2="1041.5" stroke="#d6d6d6" stroke-width="4.2" />
<line x1="1887.6" y1="1375.4" x2="1887.6" y2="1021.4" stroke="#d6d6d6" stroke-width="4.2" />
<line x1="2061.6" y1="1456.1" x2="2061.6" y2="1102.1" stroke="#d6d6d6" stroke-width="4.2" />
<line x1="2235.6" y1="1536.8" x2="2235.6" y2="1182.8" stroke="#d6d6d6" stroke-width="4.2" />
<polyline points="1433.7,1270.0 1887.6,1149.4 2235.6,1310.8" fill="none" stroke="#d6d6d6" stroke-width="4.2" stroke-linejoin="round" stroke-linecap="round" />
<polyline points="1433.7,1496.0 1887.6,1375.4 2235.6,1536.8" fill="none" stroke="#bdbdbd" stroke-width="4.2" stroke-linejoin="round" stroke-linecap="round" />
<line x1="1509.4" y1="1475.9" x2="1857.4" y2="1637.3" stroke="#d6d6d6" stroke-width="3.6" />
<line x1="1585.0" y1="1455.8" x2="1933.0" y2="1617.2" stroke="#d6d6d6" stroke-width="3.6" />
<line x1="1660.7" y1="1435.7" x2="2008.7" y2="1597.1" stroke="#d6d6d6" stroke-width="3.6" />
<line x1="1736.3" y1="1415.6" x2="2084.3" y2="1577.0" stroke="#d6d6d6" stroke-width="3.6" />
<line x1="1812.0" y1="1395.5" x2="2159.9" y2="1556.9" stroke="#d6d6d6" stroke-width="3.6" />
<line x1="1607.7" y1="1576.7" x2="2061.6" y2="1456.1" stroke="#d6d6d6" stroke-width="3.6" />
<polyline points="1513.0,1475.4 1471.4,1505.2" fill="none" stroke="#3C40AC" stroke-width="8" stroke-linejoin="round" stroke-linecap="round" />
<polyline points="1660.0,1433.7 1562.7,1505.2 1558.7,1552.8" fill="none" stroke="#2070D0" stroke-width="8" stroke-linejoin="round" stroke-linecap="round" />
<polyline points="1717.5,1443.7 1663.9,1475.4 1661.9,1523.0 1669.8,1558.7 1757.1,1574.6 1896.0,1584.5 2034.9,1572.6 2146.0,1558.7" fill="none" stroke="#2894D6" stroke-width="8" stroke-linejoin="round" stroke-linecap="round" />
<polyline points="1657.9,1602.4 1717.5,1606.3 1800.8,1614.3 1915.9,1602.4 2011.1,1594.4" fill="none" stroke="#1A3EB0" stroke-width="8" stroke-linejoin="round" stroke-linecap="round" />
<polyline points="1749.2,1642.1 1796.8,1642.1 1848.4,1636.1" fill="none" stroke="#3C40AC" stroke-width="8" stroke-linejoin="round" stroke-linecap="round" />
<polyline points="1753.2,1479.4 1755.2,1536.9 1836.5,1546.8 1955.6,1554.8 2074.6,1546.8 2225.4,1527.0" fill="none" stroke="#1090AC" stroke-width="8" stroke-linejoin="round" stroke-linecap="round" />
<polyline points="1832.5,1475.4 1834.5,1517.1 1915.9,1525.0 2034.9,1527.0 2195.6,1515.1" fill="none" stroke="#249C60" stroke-width="8" stroke-linejoin="round" stroke-linecap="round" />
<polyline points="1900.0,1451.6 1902.0,1495.2 1995.2,1505.2 2167.9,1501.2" fill="none" stroke="#90AC3C" stroke-width="8" stroke-linejoin="round" stroke-linecap="round" />
<polyline points="1983.3,1417.9 1965.5,1435.7 1965.5,1473.4 1995.2,1483.3 2074.6,1489.3 2138.1,1489.3" fill="none" stroke="#FF9C20" stroke-width="8" stroke-linejoin="round" stroke-linecap="round" />
<polyline points="2023.0,1435.7 2025.0,1463.5 2074.6,1469.4 2100.4,1473.4" fill="none" stroke="#F4DA10" stroke-width="8" stroke-linejoin="round" stroke-linecap="round" />
<line x1="1433.7" y1="1498.0" x2="1433.7" y2="1142.0" stroke="#2a2a2a" stroke-width="5" />
<polyline points="1433.7,1496.0 1781.7,1657.4 2235.6,1536.8" fill="none" stroke="#2e2e2e" stroke-width="8.5" stroke-linejoin="round" stroke-linecap="round" />
<line x1="1419.7" y1="1496.0" x2="1433.7" y2="1496.0" stroke="#2e2e2e" stroke-width="8.5" />
<line x1="1419.7" y1="1270.0" x2="1433.7" y2="1270.0" stroke="#2e2e2e" stroke-width="8.5" />
<line x1="1433.7" y1="1496.0" x2="1424.7" y2="1503.0" stroke="#2e2e2e" stroke-width="8.5" />
<line x1="1607.7" y1="1576.7" x2="1598.7" y2="1583.7" stroke="#2e2e2e" stroke-width="8.5" />
<line x1="1781.7" y1="1657.4" x2="1772.7" y2="1664.4" stroke="#2e2e2e" stroke-width="8.5" />
<line x1="1781.7" y1="1657.4" x2="1788.7" y2="1666.4" stroke="#2e2e2e" stroke-width="8.5" />
<line x1="1857.4" y1="1637.3" x2="1864.4" y2="1646.3" stroke="#2e2e2e" stroke-width="8.5" />
<line x1="1933.0" y1="1617.2" x2="1940.0" y2="1626.2" stroke="#2e2e2e" stroke-width="8.5" />
<line x1="2008.7" y1="1597.1" x2="2015.7" y2="1606.1" stroke="#2e2e2e" stroke-width="8.5" />
<line x1="2084.3" y1="1577.0" x2="2091.3" y2="1586.0" stroke="#2e2e2e" stroke-width="8.5" />
<line x1="2159.9" y1="1556.9" x2="2166.9" y2="1565.9" stroke="#2e2e2e" stroke-width="8.5" />
<line x1="2235.6" y1="1536.8" x2="2242.6" y2="1545.8" stroke="#2e2e2e" stroke-width="8.5" />
<polygon points="1812.0,1160.5 1887.6,1129.4 1945.6,1114.3 1870.0,1152.4" fill="#1B8C4D" stroke="#000" stroke-width="8.5" stroke-linejoin="round"/>
<polygon points="1736.3,1193.6 1812.0,1160.5 1870.0,1152.4 1794.3,1187.5" fill="#0B8272" stroke="#000" stroke-width="8.5" stroke-linejoin="round"/>
<polygon points="1660.7,1228.7 1736.3,1193.6 1794.3,1187.5 1718.7,1222.6" fill="#077097" stroke="#000" stroke-width="8.5" stroke-linejoin="round"/>
<polygon points="1870.0,1152.4 1945.6,1114.3 2003.6,1092.2 1928.0,1140.3" fill="#B28720" stroke="#000" stroke-width="8.5" stroke-linejoin="round"/>
<polygon points="1585.0,1260.8 1660.7,1228.7 1718.7,1222.6 1643.0,1261.7" fill="#0749A1" stroke="#000" stroke-width="8.5" stroke-linejoin="round"/>
<polygon points="1794.3,1187.5 1870.0,1152.4 1928.0,1140.3 1852.3,1188.4" fill="#359036" stroke="#000" stroke-width="8.5" stroke-linejoin="round"/>
<polygon points="1509.4,1295.9 1585.0,1260.8 1643.0,1261.7 1567.4,1296.8" fill="#0C328A" stroke="#000" stroke-width="8.5" stroke-linejoin="round"/>
<polygon points="1718.7,1222.6 1794.3,1187.5 1852.3,1188.4 1776.7,1235.5" fill="#0A8174" stroke="#000" stroke-width="8.5" stroke-linejoin="round"/>
<polygon points="1928.0,1140.3 2003.6,1092.2 2061.6,1099.1 1986.0,1149.2" fill="#FE9A10" stroke="#000" stroke-width="8.5" stroke-linejoin="round"/>
<polygon points="1433.7,1326.0 1509.4,1295.9 1567.4,1296.8 1491.7,1332.9" fill="#0C2474" stroke="#000" stroke-width="8.5" stroke-linejoin="round"/>
<polygon points="1643.0,1261.7 1718.7,1222.6 1776.7,1235.5 1701.0,1275.6" fill="#0664A2" stroke="#000" stroke-width="8.5" stroke-linejoin="round"/>
<polygon points="1852.3,1188.4 1928.0,1140.3 1986.0,1149.2 1910.3,1199.3" fill="#7E8D23" stroke="#000" stroke-width="8.5" stroke-linejoin="round"/>
<polygon points="1567.4,1296.8 1643.0,1261.7 1701.0,1275.6 1625.4,1308.7" fill="#0749A1" stroke="#000" stroke-width="8.5" stroke-linejoin="round"/>
<polygon points="1776.7,1235.5 1852.3,1188.4 1910.3,1199.3 1834.7,1246.4" fill="#1B8C4D" stroke="#000" stroke-width="8.5" stroke-linejoin="round"/>
<polygon points="1986.0,1149.2 2061.6,1099.1 2119.6,1149.0 2044.0,1198.1" fill="#A18920" stroke="#000" stroke-width="8.5" stroke-linejoin="round"/>
<polygon points="1491.7,1332.9 1567.4,1296.8 1625.4,1308.7 1549.7,1346.8" fill="#0C2F86" stroke="#000" stroke-width="8.5" stroke-linejoin="round"/>
<polygon points="1701.0,1275.6 1776.7,1235.5 1834.7,1246.4 1759.0,1288.5" fill="#097C85" stroke="#000" stroke-width="8.5" stroke-linejoin="round"/>
<polygon points="1910.3,1199.3 1986.0,1149.2 2044.0,1198.1 1968.3,1239.2" fill="#428F32" stroke="#000" stroke-width="8.5" stroke-linejoin="round"/>
<polygon points="1625.4,1308.7 1701.0,1275.6 1759.0,1288.5 1683.4,1329.6" fill="#0456AE" stroke="#000" stroke-width="8.5" stroke-linejoin="round"/>
<polygon points="1834.7,1246.4 1910.3,1199.3 1968.3,1239.2 1892.7,1283.8" fill="#0C8665" stroke="#000" stroke-width="8.5" stroke-linejoin="round"/>
<polygon points="2044.0,1198.1 2119.6,1149.0 2177.6,1223.9 2101.9,1262.0" fill="#188B51" stroke="#000" stroke-width="8.5" stroke-linejoin="round"/>
<polygon points="1549.7,1346.8 1625.4,1308.7 1683.4,1329.6 1607.7,1365.2" fill="#0B3991" stroke="#000" stroke-width="8.5" stroke-linejoin="round"/>
<polygon points="1759.0,1288.5 1834.7,1246.4 1892.7,1283.8 1817.0,1326.4" fill="#066A9C" stroke="#000" stroke-width="8.5" stroke-linejoin="round"/>
<polygon points="1968.3,1239.2 2044.0,1198.1 2101.9,1262.0 2026.3,1296.1" fill="#0A8174" stroke="#000" stroke-width="8.5" stroke-linejoin="round"/>
<polygon points="1683.4,1329.6 1759.0,1288.5 1817.0,1326.4 1741.4,1364.5" fill="#09459D" stroke="#000" stroke-width="8.5" stroke-linejoin="round"/>
<polygon points="1892.7,1283.8 1968.3,1239.2 2026.3,1296.1 1950.7,1330.2" fill="#077097" stroke="#000" stroke-width="8.5" stroke-linejoin="round"/>
<polygon points="2101.9,1262.0 2177.6,1223.9 2235.6,1298.8 2159.9,1325.9" fill="#055EA7" stroke="#000" stroke-width="8.5" stroke-linejoin="round"/>
<polygon points="1607.7,1365.2 1683.4,1329.6 1741.4,1364.5 1665.7,1394.6" fill="#0B368E" stroke="#000" stroke-width="8.5" stroke-linejoin="round"/>
<polygon points="1817.0,1326.4 1892.7,1283.8 1950.7,1330.2 1875.0,1370.3" fill="#08479F" stroke="#000" stroke-width="8.5" stroke-linejoin="round"/>
<polygon points="2026.3,1296.1 2101.9,1262.0 2159.9,1325.9 2084.3,1357.0" fill="#08479F" stroke="#000" stroke-width="8.5" stroke-linejoin="round"/>
<polygon points="1741.4,1364.5 1817.0,1326.4 1875.0,1370.3 1799.4,1404.4" fill="#0C328A" stroke="#000" stroke-width="8.5" stroke-linejoin="round"/>
<polygon points="1950.7,1330.2 2026.3,1296.1 2084.3,1357.0 2008.7,1391.1" fill="#0C328A" stroke="#000" stroke-width="8.5" stroke-linejoin="round"/>
<polygon points="1665.7,1394.6 1741.4,1364.5 1799.4,1404.4 1723.7,1439.5" fill="#0C2575" stroke="#000" stroke-width="8.5" stroke-linejoin="round"/>
<polygon points="1875.0,1370.3 1950.7,1330.2 2008.7,1391.1 1933.0,1424.2" fill="#0C2678" stroke="#000" stroke-width="8.5" stroke-linejoin="round"/>
<polygon points="1799.4,1404.4 1875.0,1370.3 1933.0,1424.2 1857.4,1454.3" fill="#0C1F6A" stroke="#000" stroke-width="8.5" stroke-linejoin="round"/>
<polygon points="1723.7,1439.5 1799.4,1404.4 1857.4,1454.3 1781.7,1494.4" fill="#0C1152" stroke="#000" stroke-width="8.5" stroke-linejoin="round"/>
<text font-size="56" text-anchor="middle" transform="translate(1378.5 1571.5) scale(1 1.17)" stroke-width="3.0" >5</text>
<text font-size="56" text-anchor="middle" transform="translate(1553.5 1647.6) scale(1 1.17)" stroke-width="3.0" >3</text>
<text font-size="56" text-anchor="middle" transform="translate(1727.0 1731.0) scale(1 1.17)" stroke-width="3.0" >1</text>
<text font-size="56" text-anchor="middle" transform="translate(1829.5 1736.5) scale(1 1.17)" stroke-width="3.0" >2</text>
<text font-size="56" text-anchor="middle" transform="translate(1905.5 1714.5) scale(1 1.17)" stroke-width="3.0" >4</text>
<text font-size="56" text-anchor="middle" transform="translate(1978.0 1694.5) scale(1 1.17)" stroke-width="3.0" >6</text>
<text font-size="56" text-anchor="middle" transform="translate(2055.5 1671.5) scale(1 1.17)" stroke-width="3.0" >8</text>
<text font-size="56" text-anchor="middle" transform="translate(2150.0 1650.0) scale(1 1.17)" stroke-width="3.0" >10</text>
<text font-size="56" text-anchor="middle" transform="translate(2225.0 1630.0) scale(1 1.17)" stroke-width="3.0" >12</text>
<text font-size="56" text-anchor="middle" transform="translate(2301.0 1607.5) scale(1 1.17)" stroke-width="3.0" >14</text>
<text font-size="56" text-anchor="end" transform="translate(1394.0 1282.0) scale(1 1.03)" stroke-width="3.0" ><tspan font-size="68" dy="3.4">-</tspan><tspan dx="1" dy="-3.4">40</tspan></text>
<text font-size="60" text-anchor="end" transform="translate(1394.0 1506.3) scale(1 1.06)" stroke-width="3.0" ><tspan font-size="73" dy="3.6">-</tspan><tspan dx="6" dy="-3.6">60</tspan></text>
<text font-size="74" text-anchor="middle" font-weight="bold" textLength="320" lengthAdjust="spacingAndGlyphs" transform="translate(1826.0 990.0)" stroke-width="2" >East Wall</text>
<text font-size="63" text-anchor="start" textLength="300" lengthAdjust="spacingAndGlyphs" transform="translate(1376.0 1776.0)" stroke-width="3.0" >Width (m)</text>
<text font-size="63" text-anchor="start" textLength="331" lengthAdjust="spacingAndGlyphs" transform="translate(2054.0 1796.0)" stroke-width="3.0" >Length (m)</text>
<rect x="2298.0" y="58.0" width="81.0" height="541.0" fill="url(#cg)" stroke="#0a0a0a" stroke-width="10"/>
<line x1="2369.0" y1="90.0" x2="2376.0" y2="90.0" stroke="#111" stroke-width="4" />
<text font-size="60" text-anchor="start" transform="translate(2398.0 110.8) scale(1 0.97)" stroke-width="2.6" ><tspan font-size="64" dy="1">-</tspan><tspan dx="5" dy="-1">44</tspan></text>
<line x1="2369.0" y1="236.0" x2="2376.0" y2="236.0" stroke="#111" stroke-width="4" />
<text font-size="60" text-anchor="start" transform="translate(2398.0 256.8) scale(1 0.97)" stroke-width="2.6" ><tspan font-size="64" dy="1">-</tspan><tspan dx="5" dy="-1">48</tspan></text>
<line x1="2369.0" y1="386.0" x2="2376.0" y2="386.0" stroke="#111" stroke-width="4" />
<text font-size="60" text-anchor="start" transform="translate(2398.0 406.8) scale(1 0.97)" stroke-width="2.6" ><tspan font-size="64" dy="1">-</tspan><tspan dx="5" dy="-1">52</tspan></text>
<line x1="2369.0" y1="543.0" x2="2376.0" y2="543.0" stroke="#111" stroke-width="4" />
<text font-size="60" text-anchor="start" transform="translate(2398.0 563.8) scale(1 0.97)" stroke-width="2.6" ><tspan font-size="64" dy="1">-</tspan><tspan dx="5" dy="-1">56</tspan></text>
<rect x="2302.0" y="948.0" width="78.0" height="557.0" fill="url(#cg)" stroke="#0a0a0a" stroke-width="10"/>
<line x1="2370.0" y1="1066.0" x2="2377.0" y2="1066.0" stroke="#111" stroke-width="4" />
<text font-size="60" text-anchor="start" transform="translate(2398.0 1086.8) scale(1 0.97)" stroke-width="2.6" ><tspan font-size="64" dy="1">-</tspan><tspan dx="5" dy="-1">39</tspan></text>
<line x1="2370.0" y1="1200.5" x2="2377.0" y2="1200.5" stroke="#111" stroke-width="4" />
<text font-size="60" text-anchor="start" transform="translate(2398.0 1221.3) scale(1 0.97)" stroke-width="2.6" ><tspan font-size="64" dy="1">-</tspan><tspan dx="5" dy="-1">42</tspan></text>
<line x1="2370.0" y1="1337.0" x2="2377.0" y2="1337.0" stroke="#111" stroke-width="4" />
<text font-size="60" text-anchor="start" transform="translate(2398.0 1357.8) scale(1 0.97)" stroke-width="2.6" ><tspan font-size="64" dy="1">-</tspan><tspan dx="5" dy="-1">45</tspan></text>
<line x1="2370.0" y1="1471.5" x2="2377.0" y2="1471.5" stroke="#111" stroke-width="4" />
<text font-size="60" text-anchor="start" transform="translate(2398.0 1492.3) scale(1 0.97)" stroke-width="2.6" ><tspan font-size="64" dy="1">-</tspan><tspan dx="5" dy="-1">48</tspan></text>
</g>
</svg>
</body></html>
